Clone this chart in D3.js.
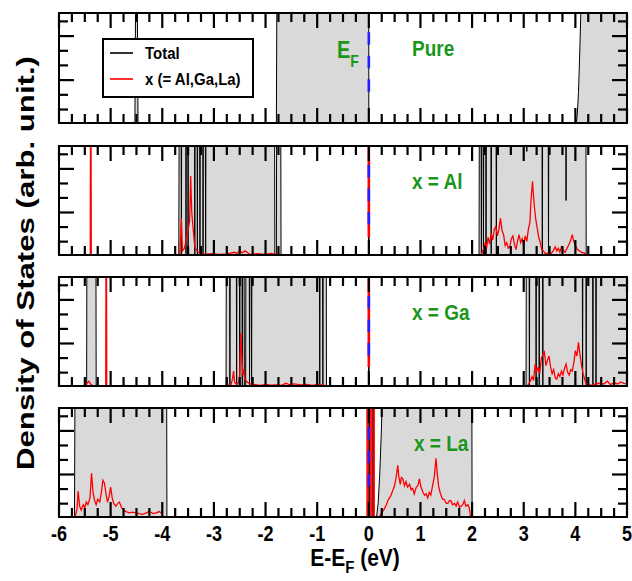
<!DOCTYPE html>
<html>
<head>
<meta charset="utf-8">
<script src="https://cdn.jsdelivr.net/npm/d3@7"></script>
<style>
  body { margin: 0; background: #fff; }
  text { font-family: "Liberation Sans", Arial, sans-serif; font-weight: bold; }
</style>
</head>
<body>
<svg id="chart" width="632" height="581"></svg>
<script>
// ---- data ----
var xTicks = [-6, -5, -4, -3, -2, -1, 0, 1, 2, 3, 4, 5];
var yTicks = [0.98, 2.05, 3.12, 4.19, 5.25, 6.32, 7.39];
var yMajorTicks = [3.12, 6.32];
var panelLabels = ["Pure", "x = Al", "x = Ga", "x = La"];
var legendLabels = ["Total", "x (= Al,Ga,La)"];
var efRedFrom = [null, 1.3, 1.4, null];   // red segment on the E_F line (from this DOS value up)
var efDash = [2.0, 6.6];                   // blue dashed E_F marker range
var laEfBand = [-0.05, 0.12];              // solid red La peak at E_F

var totalPure = [[-6,0],[-4.53,0],[-4.515,10],[-4.485,10],[-4.47,0],[-1.79,0],[-1.78,10],
  [-0.002,10],[0,0],[4.02,0],[4.04,0.8],[4.06,2.2],[4.08,4.5],[4.10,7.2],[4.12,10],[5,10]];

var totalAl = [[-6,0],[-3.68,0],[-3.673,10],
  [-3.636,10],[-3.63,0],[-3.624,10],[-3.546,10],[-3.54,0],[-3.534,10],
  [-3.506,10],[-3.50,0],[-3.494,10],[-3.376,10],[-3.37,0],[-3.364,10],
  [-3.326,10],[-3.32,0],[-3.314,10],[-3.276,10],[-3.27,0],[-3.264,10],
  [-3.216,10],[-3.21,0],[-3.204,10],[-3.166,10],[-3.16,0],[-3.154,10],
  [-1.825,10],[-1.82,0],[-1.79,0],[-1.785,10],[-1.705,10],[-1.70,0],
  [-0.006,0],[0,10],[0.006,0],
  [2.135,0],[2.14,10],[2.174,10],[2.18,0],[2.186,10],[2.214,10],[2.22,0],[2.226,10],
  [2.264,10],[2.27,0],[2.276,10],[2.364,10],[2.37,0],[2.376,10],
  [2.464,10],[2.47,0],[2.476,10],[3.054,10],[3.06,7.6],[3.066,10],
  [3.354,10],[3.36,0],[3.366,10],[3.474,10],[3.48,0],[3.486,10],
  [3.814,10],[3.82,4.0],[3.826,10],[4.205,10],[4.21,0],[5,0]];

var totalGa = [[-6,0],[-5.465,0],[-5.46,10],[-5.285,10],[-5.28,0],
  [-2.765,0],[-2.76,10],[-2.696,10],[-2.69,0],[-2.684,10],
  [-2.566,10],[-2.56,0],[-2.554,10],[-2.506,10],[-2.50,0],[-2.494,10],
  [-2.456,10],[-2.45,0],[-2.444,10],[-2.415,10],[-2.41,0],[-2.385,0],[-2.38,10],
  [-2.316,10],[-2.31,0],[-2.304,10],[-2.276,10],[-2.27,0],[-2.264,10],
  [-0.956,10],[-0.95,0],[-0.944,10],[-0.896,10],[-0.89,0],[-0.884,10],
  [-0.825,10],[-0.82,0],
  [-0.006,0],[0,10],[0.006,0],
  [3.045,0],[3.05,10],[3.104,10],[3.11,0],[3.116,10],[3.234,10],[3.24,0],[3.246,10],
  [3.294,10],[3.30,0],[3.306,10],[3.364,10],[3.37,0],[3.376,10],
  [4.134,10],[4.14,0],[4.146,10],[4.204,10],[4.21,0],[4.216,10],
  [4.334,10],[4.34,0],[4.346,10],[4.394,10],[4.40,0],[4.406,10],[5,10]];

var totalLa = [[-6,0],[-5.70,0],[-5.69,10],[-3.915,10],[-3.91,0],
  [0.0,0],[0.005,10],[0.01,0],[0.075,0],[0.08,10],[0.085,0],
  [0.15,0],[0.18,1.0],[0.21,3.0],[0.24,6.0],[0.27,10],[1.995,10],[2.0,0],[5,0]];

var partialAl = [[-6,0],[-5.395,0],[-5.39,10],[-5.38,10],[-5.375,0],
  [-3.72,0],[-3.66,0.1],[-3.63,2.7],[-3.61,0.3],[-3.57,0.5],[-3.53,1.2],[-3.47,2.5],
  [-3.45,5.8],[-3.43,3.2],[-3.40,1.8],[-3.37,0.6],[-3.33,0.3],[-3.28,0.15],[-3.2,0.05],
  [-3.05,0.1],[-2.9,0.05],[-2.75,0.08],[-2.6,0.2],[-2.55,0.1],[-2.5,0.35],[-2.45,0.15],
  [-2.4,0.3],[-2.3,0.05],[-2.15,0.1],[-2.0,0.05],[-1.9,0.12],[-1.75,0.05],[-1.7,0],
  [2.17,0],[2.22,0.4],[2.25,0.9],[2.28,0.5],[2.31,1.3],[2.34,0.8],[2.37,1.6],[2.40,1.1],
  [2.43,1.9],[2.46,2.1],[2.49,1.4],[2.52,1.9],[2.55,2.7],[2.58,1.8],[2.61,1.5],[2.64,0.7],
  [2.67,0.9],[2.70,0.5],[2.73,0.6],[2.76,1.2],[2.79,1.4],[2.82,0.8],[2.85,0.4],[2.88,1.0],
  [2.91,1.5],[2.94,0.9],[2.97,1.2],[3.00,0.7],[3.03,1.4],[3.06,1.0],[3.09,1.9],[3.12,2.4],
  [3.14,4.0],[3.17,5.4],[3.20,3.8],[3.23,2.7],[3.26,2.0],[3.29,1.3],[3.32,0.9],[3.35,0.4],
  [3.38,0.3],[3.42,0.1],[3.47,0.15],[3.52,0.05],[3.57,0.3],[3.61,0.6],[3.64,0.3],[3.67,0.5],
  [3.70,0.2],[3.73,0.6],[3.76,0.4],[3.80,0.2],[3.84,0.5],[3.88,0.8],[3.91,1.1],[3.94,1.5],
  [3.97,1.0],[4.00,0.7],[4.04,0.4],[4.08,0.3],[4.12,0.2],[4.17,0.15],[4.22,0],[5,0]];

var partialGa = [[-6,0],[-5.50,0],[-5.46,0.2],[-5.42,0.35],[-5.38,0.1],[-5.32,0],
  [-5.095,0],[-5.09,10],[-5.08,10],[-5.075,0],
  [-2.80,0],[-2.67,0.1],[-2.64,0.5],[-2.62,1.1],[-2.60,0.3],[-2.56,0.1],[-2.52,0.3],
  [-2.50,0.9],[-2.48,3.9],[-2.46,2.2],[-2.44,0.8],[-2.42,1.2],[-2.40,0.5],[-2.36,0.3],
  [-2.30,0.15],[-2.2,0.1],[-2.1,0.05],[-2.0,0.12],[-1.9,0.06],[-1.8,0.08],[-1.7,0.05],
  [-1.6,0.2],[-1.55,0.1],[-1.45,0.15],[-1.3,0.08],[-1.2,0.12],[-1.1,0.05],[-1.0,0.1],
  [-0.9,0.08],[-0.82,0],
  [3.07,0],[3.12,0.3],[3.16,0.7],[3.19,0.4],[3.22,1.6],[3.25,1.0],[3.28,1.4],[3.31,0.9],
  [3.34,2.0],[3.37,2.3],[3.40,2.5],[3.43,1.5],[3.46,1.9],[3.49,2.2],[3.52,1.4],[3.55,0.9],
  [3.58,1.2],[3.61,0.6],[3.64,0.5],[3.67,0.9],[3.70,0.7],[3.73,1.1],[3.76,0.8],[3.79,1.3],
  [3.82,1.6],[3.85,1.0],[3.88,0.8],[3.91,1.2],[3.94,1.1],[3.97,1.7],[4.00,2.6],[4.03,2.2],
  [4.06,3.2],[4.09,2.3],[4.12,1.5],[4.15,0.9],[4.18,0.5],[4.21,0.15],[4.26,0.05],[4.35,0.1],
  [4.45,0.2],[4.55,0.15],[4.62,0.35],[4.68,0.1],[4.75,0.25],[4.82,0.15],[4.88,0.3],
  [4.94,0.2],[5,0.15]];

var partialLa = [[-6,0],[-5.69,0],[-5.65,0.6],[-5.63,1.9],[-5.60,0.8],[-5.57,0.5],[-5.53,0.9],
  [-5.50,0.7],[-5.47,1.1],[-5.44,0.9],[-5.40,1.4],[-5.37,3.2],[-5.34,1.8],[-5.31,1.2],
  [-5.28,0.9],[-5.25,1.3],[-5.21,1.1],[-5.18,1.8],[-5.15,2.7],[-5.12,2.5],[-5.09,1.7],
  [-5.06,1.1],[-5.03,1.5],[-5.00,2.2],[-4.97,1.4],[-4.94,1.0],[-4.90,0.8],[-4.86,1.0],
  [-4.83,1.1],[-4.79,0.7],[-4.75,0.5],[-4.70,0.4],[-4.64,0.3],[-4.58,0.35],[-4.51,0.3],
  [-4.45,0.25],[-4.38,0.2],[-4.31,0.3],[-4.25,0.4],[-4.18,0.25],[-4.12,0.3],[-4.06,0.4],
  [-4.02,0.3],[-3.98,0],
  [0.20,0],[0.25,0.3],[0.30,0.6],[0.34,0.9],[0.38,1.3],[0.42,1.5],[0.46,1.9],[0.49,2.2],
  [0.52,2.7],[0.54,3.2],[0.56,3.8],[0.58,3.0],[0.61,2.4],[0.63,2.9],[0.66,2.8],[0.69,2.3],
  [0.72,2.6],[0.75,2.2],[0.79,2.4],[0.82,2.0],[0.85,2.1],[0.88,1.7],[0.92,2.2],[0.95,2.3],
  [0.98,2.8],[1.01,2.2],[1.05,1.8],[1.08,1.6],[1.11,1.7],[1.14,1.4],[1.17,1.8],[1.20,1.6],
  [1.24,2.4],[1.27,3.0],[1.30,4.3],[1.33,3.0],[1.35,2.3],[1.38,1.8],[1.40,1.6],[1.43,1.3],
  [1.46,1.3],[1.50,1.0],[1.53,1.0],[1.56,1.2],[1.59,1.2],[1.62,0.9],[1.66,1.0],[1.69,0.8],
  [1.72,1.1],[1.76,0.7],[1.79,0.8],[1.82,0.9],[1.85,1.2],[1.88,0.8],[1.92,0.9],[1.95,0.6],
  [1.97,0],[5,0]];

// ---- layout ----
var green = "#1a961a";
var panelBox = [[13, 123], [146, 255], [277, 386], [408, 517]];
var totals = [totalPure, totalAl, totalGa, totalLa];
var partials = [null, partialAl, partialGa, partialLa];

var svg = d3.select("#chart");
var defs = svg.append("defs");
var x = d3.scaleLinear().domain([-6, 5]).range([59, 627]);
var xMinor = d3.range(-6, 5.001, 0.25);
var yScales = panelBox.map(b => d3.scaleLinear().domain([0, 8]).range([b[1], b[0]]));

// curves
panelBox.forEach(function(box, i) {
  var y = yScales[i];
  defs.append("clipPath").attr("id", "clip" + i)
    .append("rect")
      .attr("x", x(-6)).attr("y", box[0])
      .attr("width", x(5) - x(-6)).attr("height", box[1] - box[0]);

  var inner = svg.append("g").attr("clip-path", "url(#clip" + i + ")");
  var area = d3.area().x(d => x(d[0])).y0(y(0)).y1(d => y(d[1]));
  var line = d3.line().x(d => x(d[0])).y(d => y(d[1]));

  inner.append("path").datum(totals[i])
    .attr("d", area).attr("fill", "#d9d9d9");
  inner.append("path").datum(totals[i])
    .attr("d", line).attr("fill", "none")
    .attr("stroke", "#000").attr("stroke-width", 1);

  if (partials[i]) {
    inner.append("path").datum(partials[i])
      .attr("d", line).attr("fill", "none")
      .attr("stroke", "#ff0000").attr("stroke-width", 1.3);
  }
  if (i === 3) {
    inner.append("rect")
      .attr("x", x(laEfBand[0])).attr("y", box[0])
      .attr("width", x(laEfBand[1]) - x(laEfBand[0])).attr("height", box[1] - box[0])
      .attr("fill", "#ff1a1a");
    inner.append("line")
      .attr("x1", x(0.01)).attr("x2", x(0.01)).attr("y1", box[0]).attr("y2", box[1])
      .attr("stroke", "#000").attr("stroke-width", 1.2);
    inner.append("line")
      .attr("x1", x(0.08)).attr("x2", x(0.08)).attr("y1", box[0]).attr("y2", box[1])
      .attr("stroke", "#7a0000").attr("stroke-width", 1);
  }

  // Fermi level marker
  if (efRedFrom[i] !== null) {
    inner.append("line")
      .attr("x1", x(0)).attr("x2", x(0))
      .attr("y1", y(efRedFrom[i])).attr("y2", box[0])
      .attr("stroke", "#ff0000").attr("stroke-width", 2.6);
  }
  inner.append("line")
    .attr("x1", x(0)).attr("x2", x(0))
    .attr("y1", y(efDash[1])).attr("y2", y(efDash[0]))
    .attr("stroke", "#1f1fff").attr("stroke-width", 2.6)
    .attr("stroke-dasharray", "12.5,11");

  svg.append("text")
    .attr("transform", "translate(" + (i === 3 ? 414 : 412) + "," + (box[0] + 43) + ") scale(1,1.15)")
    .attr("font-size", 19).attr("fill", green)
    .text(panelLabels[i]);
});

// frames and inward ticks
panelBox.forEach(function(box, i) {
  var y = yScales[i];
  var t = svg.append("g").attr("class", "ticks");
  t.selectAll("line.xb").data(xMinor).join("line")
    .attr("x1", d => x(d)).attr("x2", d => x(d))
    .attr("y1", box[1]).attr("y2", d => box[1] - (xTicks.includes(d) ? 15 : 9))
    .attr("stroke", "#000").attr("stroke-width", 2.2);
  t.selectAll("line.xt").data(xMinor).join("line")
    .attr("x1", d => x(d)).attr("x2", d => x(d))
    .attr("y1", box[0]).attr("y2", d => box[0] + (xTicks.includes(d) ? 15 : 9))
    .attr("stroke", "#000").attr("stroke-width", 2.2);
  t.selectAll("line.yl").data(yTicks).join("line")
    .attr("y1", d => y(d)).attr("y2", d => y(d))
    .attr("x1", x(-6)).attr("x2", d => x(-6) + (yMajorTicks.includes(d) ? 15 : 9))
    .attr("stroke", "#000").attr("stroke-width", 2.2);
  t.selectAll("line.yr").data(yTicks).join("line")
    .attr("y1", d => y(d)).attr("y2", d => y(d))
    .attr("x1", x(5)).attr("x2", d => x(5) - (yMajorTicks.includes(d) ? 15 : 9))
    .attr("stroke", "#000").attr("stroke-width", 2.2);
  t.append("rect")
    .attr("x", x(-6)).attr("y", box[0])
    .attr("width", x(5) - x(-6)).attr("height", box[1] - box[0])
    .attr("fill", "none").attr("stroke", "#000").attr("stroke-width", 2);
});

// E_F label in top panel
var ef = svg.append("text")
  .attr("transform", "translate(337,58) scale(1,1.15)")
  .attr("font-size", 20).attr("fill", green);
ef.append("tspan").text("E");
ef.append("tspan").attr("font-size", 14).attr("dy", 8).text("F");

// legend
var legend = svg.append("g").attr("transform", "translate(103,39)");
legend.append("rect")
  .attr("width", 150).attr("height", 58)
  .attr("fill", "#fff").attr("stroke", "#000").attr("stroke-width", 2);
[["#000", 14], ["#ff0000", 40]].forEach(function(s, k) {
  legend.append("line")
    .attr("x1", 7).attr("x2", 30).attr("y1", s[1]).attr("y2", s[1])
    .attr("stroke", s[0]).attr("stroke-width", 1.6);
  legend.append("text")
    .attr("transform", "translate(42," + (s[1] + 6) + ") scale(1,1.1)")
    .attr("font-size", 15).attr("fill", "#000")
    .text(legendLabels[k]);
});

// x tick labels
svg.append("g").selectAll("text")
  .data(xTicks)
  .join("text")
    .attr("transform", d => "translate(" + x(d) + ",541) scale(1,1.2)")
    .attr("text-anchor", "middle")
    .attr("font-size", 18)
    .text(d => String(d));

// axis titles
var xt = svg.append("text")
  .attr("transform", "translate(355,566) scale(1,1.15)")
  .attr("text-anchor", "middle")
  .attr("font-size", 21);
xt.append("tspan").text("E-E");
xt.append("tspan").attr("font-size", 15).attr("dy", 6).text("F");
xt.append("tspan").attr("dy", -6).text(" (eV)");

svg.append("text")
  .attr("transform", "translate(34,263) rotate(-90)")
  .attr("text-anchor", "middle")
  .attr("font-size", 23)
  .attr("textLength", 414)
  .attr("lengthAdjust", "spacingAndGlyphs")
  .text("Density of States (arb. unit.)");
</script>
</body>
</html>
